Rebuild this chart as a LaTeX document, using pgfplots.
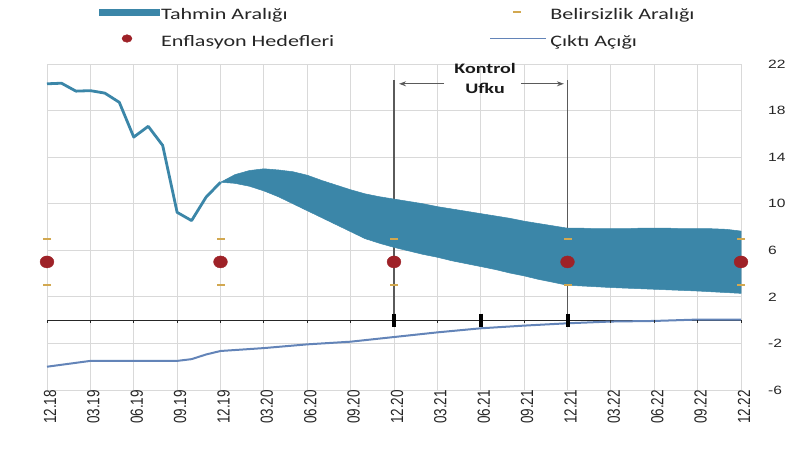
\documentclass[border=0pt]{standalone}
\usepackage{pgfplots}
\pgfplotsset{compat=1.18}
\usetikzlibrary{arrows.meta}
\usepackage{fontspec}
\setmainfont{Carlito}
\newfontfamily\legfont[FakeStretch=1.38]{Carlito}
\newfontfamily\kufont[FakeStretch=1.38]{Carlito}
\newfontfamily\ytfont[FakeStretch=1.3]{Liberation Sans}
\newfontfamily\xtfont{Liberation Sans}
\newcommand\xl[1]{\scalebox{1}[1.3]{#1}}
\definecolor{bandc}{HTML}{3B86A8}
\definecolor{gapc}{HTML}{6384B8}
\definecolor{dotc}{HTML}{9E2228}
\definecolor{dashc}{HTML}{D2A850}
\definecolor{gridc}{HTML}{D9D9D9}
\definecolor{vlinec}{HTML}{5A5A5A}
\begin{document}
\begin{tikzpicture}
\useasboundingbox (0,0) rectangle (787pt,450pt);
\begin{axis}[
  at={(47pt,60pt)}, anchor=south west,
  scale only axis, width=694pt, height=326pt,
  xmin=0, xmax=48, ymin=-6, ymax=22,
  xtick={0,3,...,48},
  xticklabels={\xl{12.18},\xl{03.19},\xl{06.19},\xl{09.19},\xl{12.19},\xl{03.20},\xl{06.20},\xl{09.20},\xl{12.20},\xl{03.21},\xl{06.21},\xl{09.21},\xl{12.21},\xl{03.22},\xl{06.22},\xl{09.22},\xl{12.22}},
  ytick={-6,-2,...,22},
  yticklabel pos=right,
  yticklabels={{-6},{-2},{2},{6},{10},{14},{18},{22}},
  grid=major,
  major grid style={draw=gridc, line width=0.9pt},
  axis line style={draw=none},
  major tick length=0pt,
  clip=false,
  x tick label style={font=\xtfont\fontsize{13.5}{13.5}\selectfont, text=black!85, rotate=90, anchor=east, inner sep=0pt, yshift=-3pt},
  every y tick label/.append style={font=\ytfont\fontsize{12}{12}\selectfont, text=black!85, inner sep=0pt, anchor=west, xshift=27pt},
  legend columns=2,
  legend cell align=left,
  legend style={at={(rel axis cs:0.1153,1.17)}, anchor=north west, draw=none, fill=none,
    inner sep=0pt, outer sep=0pt,
    font=\legfont\fontsize{16}{16}\selectfont, text=black!85,
    nodes={inner sep=0pt},
    row sep=14pt,
    /tikz/column 2/.style={column sep=182pt}},
]
% legend entries
\addlegendimage{legend image code/.code={\path[draw=none,fill=none] (0pt,0pt) -- (34pt,0pt); \fill[bandc, overlay] (-28pt,0pt) rectangle (32pt,6pt);}}
\addlegendentry{Tahmin Aralığı}
\addlegendimage{legend image code/.code={\path[draw=none,fill=none] (0pt,0pt) -- (34pt,0pt); \draw[dashc, line width=2pt, overlay] (-3pt,3pt) -- (5pt,3pt);}}
\addlegendentry{Belirsizlik Aralığı}
\addlegendimage{legend image code/.code={\path[draw=none,fill=none] (0pt,0pt) -- (34pt,0pt); \fill[dotc, overlay] (0pt,3pt) ellipse (5pt and 3.8pt);}}
\addlegendentry{Enflasyon Hedefleri}
\addlegendimage{legend image code/.code={\path[draw=none,fill=none] (0pt,0pt) -- (34pt,0pt); \draw[gapc, line width=1.5pt, overlay] (-26pt,3pt) -- (30pt,3pt);}}
\addlegendentry{Çıktı Açığı}

% control horizon verticals
\addplot[vlinec, line width=1.1pt, forget plot] coordinates {(24,0)(24,20.6)};
\addplot[vlinec, line width=1.1pt, forget plot] coordinates {(36,0)(36,20.6)};

% forecast band
\addplot[fill=bandc, draw=bandc, line width=0.5pt, forget plot] coordinates {
 (12,11.84)(13,12.5)(14,12.85)(15,13.0)(16,12.9)(17,12.75)(18,12.45)(19,12.0)(20,11.6)(21,11.2)(22,10.85)(23,10.6)(24,10.4)(25,10.2)(26,10.0)(27,9.75)(28,9.55)(29,9.35)(30,9.15)(31,8.95)(32,8.75)(33,8.5)(34,8.3)(35,8.1)(36,7.9)(37,7.9)(38,7.85)(39,7.85)(40,7.85)(41,7.9)(42,7.9)(43,7.9)(44,7.85)(45,7.85)(46,7.85)(47,7.8)(48,7.65)
 (48,2.3)(45,2.5)(42,2.65)(39,2.8)(36,3.0)(35,3.25)(34,3.5)(33,3.8)(32,4.05)(31,4.35)(30,4.6)(29,4.85)(28,5.1)(27,5.4)(26,5.65)(25,5.95)(24,6.25)(23,6.6)(22,7.0)(21,7.6)(20,8.2)(19,8.8)(18,9.4)(17,10.0)(16,10.6)(15,11.1)(14,11.5)(13,11.75)(12,11.84)
} -- cycle;

% realised inflation
\addplot[bandc, line width=2.8pt, line join=round, forget plot] coordinates {
 (0,20.30)(1,20.35)(2,19.67)(3,19.71)(4,19.50)(5,18.71)(6,15.72)(7,16.65)(8,15.01)(9,9.26)(10,8.55)(11,10.56)(12,11.84)};

% uncertainty dashes
\addplot[only marks, mark=-, mark size=4pt, mark options={draw=dashc, line width=2pt}, forget plot] coordinates {
 (0,7)(0,3)(12,7)(12,3)(24,7)(24,3)(36,7)(36,3)(48,7)(48,3)};

% inflation targets
\addplot[only marks, mark=*, mark size=6pt, mark options={fill=dotc, draw=dotc, xscale=1.15}, forget plot] coordinates {
 (0,5)(12,5)(24,5)(36,5)(48,5)};

% zero axis with quarter ticks
\addplot[black!85, line width=1pt, mark=|, mark size=1.6pt, mark options={yshift=-1.6pt, line width=0.8pt}, forget plot] coordinates {
 (0,0)(3,0)(6,0)(9,0)(12,0)(15,0)(18,0)(21,0)(24,0)(27,0)(30,0)(33,0)(36,0)(39,0)(42,0)(45,0)(48,0)};

% output gap
\addplot[gapc, line width=2pt, line join=round, forget plot] coordinates {
 (0,-4.0)(3,-3.5)(6,-3.5)(9,-3.5)(10,-3.35)(11,-2.95)(12,-2.65)(15,-2.4)(18,-2.08)(21,-1.85)(24,-1.45)(27,-1.05)(30,-0.7)(33,-0.47)(36,-0.27)(39,-0.12)(42,-0.07)(45,0.05)(48,0.05)};

% control horizon markers
\addplot[only marks, mark=|, mark size=6.5pt, mark options={line width=4pt, draw=black}, forget plot] coordinates {(24,0)(30,0)(36,0)};

% annotation
\draw[-{Stealth[length=7pt,width=5pt]}, vlinec, line width=1pt] (axis cs:27.46,20.3) -- (axis cs:24.35,20.3);
\draw[-{Stealth[length=7pt,width=5pt]}, vlinec, line width=1pt] (axis cs:32.8,20.3) -- (axis cs:35.75,20.3);
\node[font=\kufont\bfseries\fontsize{14.5}{20}\selectfont, align=center, text=black!90] at (axis cs:30.3,20.75) {Kontrol\\Ufku};
\end{axis}
\end{tikzpicture}
\end{document}
